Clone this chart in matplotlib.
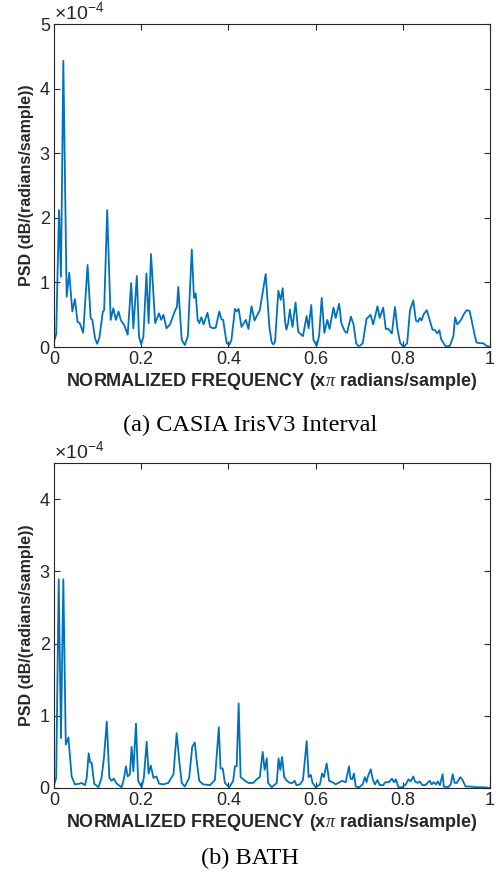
import numpy as np
import matplotlib
matplotlib.use("Agg")
import matplotlib.pyplot as plt

plt.rcParams["font.family"] = ["Liberation Sans", "DejaVu Sans"]
plt.rcParams["mathtext.fontset"] = "custom"
plt.rcParams["mathtext.rm"] = "Liberation Sans"
plt.rcParams["mathtext.it"] = "Liberation Serif:italic"

# PSD values (x1e-4), peak/valley vertices
casia_f = [0.0, 0.005, 0.0115, 0.016, 0.0214, 0.029, 0.035, 0.042, 0.048, 0.054,
           0.059, 0.067, 0.077, 0.084, 0.088, 0.094, 0.099, 0.104, 0.112, 0.115,
           0.122, 0.130, 0.136, 0.142, 0.148, 0.153, 0.161, 0.169, 0.177, 0.182,
           0.190, 0.195, 0.200, 0.205, 0.212, 0.217, 0.2225, 0.232, 0.241, 0.246,
           0.251, 0.258, 0.266, 0.278, 0.282, 0.285, 0.293, 0.300, 0.307, 0.316,
           0.321, 0.325, 0.3295, 0.333, 0.338, 0.343, 0.352, 0.358, 0.365, 0.371,
           0.379, 0.384, 0.388, 0.396, 0.402, 0.407, 0.415, 0.419, 0.4235, 0.430,
           0.440, 0.446, 0.453, 0.460, 0.465, 0.472, 0.4855, 0.494, 0.499, 0.503,
           0.507, 0.5145, 0.520, 0.5245, 0.530, 0.533, 0.537, 0.541, 0.547, 0.554,
           0.560, 0.567, 0.571, 0.5795, 0.584, 0.590, 0.595, 0.6025, 0.608, 0.614,
           0.620, 0.627, 0.632, 0.641, 0.646, 0.654, 0.659, 0.667, 0.672, 0.681,
           0.687, 0.693, 0.697, 0.702, 0.708, 0.717, 0.722, 0.726, 0.732, 0.742,
           0.747, 0.755, 0.761, 0.767, 0.775, 0.782, 0.788, 0.794, 0.802, 0.810,
           0.8165, 0.824, 0.830, 0.835, 0.839, 0.843, 0.848, 0.855, 0.861, 0.868,
           0.874, 0.879, 0.884, 0.888, 0.897, 0.902, 0.908, 0.916, 0.920, 0.925,
           0.930, 0.935, 0.940, 0.9465, 0.953, 0.958, 0.964, 0.969, 0.977, 0.984,
           0.992, 1.0]
casia_psd = [0.08, 0.20, 2.12, 1.09, 4.43, 0.78, 1.15, 0.55, 0.74, 0.39,
             0.37, 0.22, 1.27, 0.45, 0.42, 0.14, 0.05, 0.14, 0.55, 0.57,
             2.12, 0.42, 0.60, 0.42, 0.55, 0.42, 0.34, 0.19, 0.99, 0.29,
             1.10, 0.16, 0.04, 0.16, 1.14, 0.37, 1.44, 0.37, 0.52, 0.42,
             0.50, 0.29, 0.35, 0.57, 0.62, 0.93, 0.11, 0.03, 0.17, 1.51,
             0.76, 0.83, 0.42, 0.37, 0.46, 0.35, 0.53, 0.31, 0.29, 0.30,
             0.55, 0.43, 0.42, 0.06, 0.03, 0.11, 0.59, 0.55, 0.59, 0.31,
             0.42, 0.28, 0.63, 0.41, 0.48, 0.57, 1.13, 0.31, 0.08, 0.04,
             0.08, 0.87, 0.73, 0.91, 0.39, 0.27, 0.37, 0.58, 0.31, 0.69,
             0.24, 0.19, 0.17, 0.48, 0.29, 0.65, 0.11, 0.02, 0.17, 0.76,
             0.22, 0.42, 0.28, 0.61, 0.45, 0.67, 0.37, 0.24, 0.22, 0.47,
             0.35, 0.06, 0.02, 0.02, 0.06, 0.44, 0.47, 0.50, 0.35, 0.63,
             0.45, 0.61, 0.28, 0.28, 0.21, 0.62, 0.27, 0.06, 0.00, 0.06,
             0.57, 0.72, 0.41, 0.39, 0.45, 0.41, 0.51, 0.57, 0.43, 0.27,
             0.26, 0.21, 0.26, 0.12, 0.02, 0.01, 0.02, 0.17, 0.46, 0.35,
             0.39, 0.44, 0.51, 0.57, 0.56, 0.41, 0.21, 0.07, 0.06, 0.06,
             0.02, 0.0]

bath_f = [0.0, 0.005, 0.0108, 0.016, 0.0214, 0.027, 0.033, 0.0405, 0.048, 0.059,
          0.063, 0.071, 0.075, 0.0795, 0.083, 0.0865, 0.092, 0.102, 0.109, 0.1147,
          0.121, 0.127, 0.132, 0.137, 0.144, 0.155, 0.160, 0.165, 0.169, 0.174,
          0.178, 0.182, 0.188, 0.193, 0.201, 0.206, 0.2125, 0.217, 0.222, 0.228,
          0.235, 0.241, 0.251, 0.262, 0.274, 0.2813, 0.287, 0.293, 0.300, 0.310,
          0.317, 0.323, 0.327, 0.333, 0.342, 0.358, 0.369, 0.378, 0.382, 0.387,
          0.392, 0.402, 0.411, 0.415, 0.419, 0.4235, 0.428, 0.438, 0.446, 0.457,
          0.465, 0.472, 0.4786, 0.483, 0.488, 0.491, 0.4995, 0.511, 0.515, 0.519,
          0.523, 0.528, 0.534, 0.541, 0.547, 0.552, 0.556, 0.564, 0.571, 0.5795,
          0.584, 0.589, 0.593, 0.6005, 0.610, 0.6147, 0.619, 0.6254, 0.631, 0.6385,
          0.646, 0.655, 0.661, 0.669, 0.6766, 0.680, 0.684, 0.688, 0.692, 0.700,
          0.708, 0.713, 0.717, 0.7195, 0.7264, 0.731, 0.736, 0.742, 0.747, 0.755,
          0.760, 0.768, 0.775, 0.780, 0.784, 0.790, 0.798, 0.807, 0.813, 0.818,
          0.824, 0.828, 0.834, 0.839, 0.845, 0.852, 0.858, 0.862, 0.866, 0.871,
          0.876, 0.880, 0.885, 0.8914, 0.894, 0.904, 0.910, 0.9144, 0.919, 0.924,
          0.932, 0.937, 0.944, 0.955, 0.971, 0.986, 1.0]
bath_psd = [0.04, 0.14, 2.89, 0.69, 2.89, 0.60, 0.70, 0.16, 0.05, 0.06,
            0.07, 0.04, 0.14, 0.48, 0.35, 0.35, 0.06, 0.01, 0.14, 0.43,
            0.92, 0.14, 0.10, 0.13, 0.06, 0.01, 0.12, 0.30, 0.16, 0.19,
            0.57, 0.23, 0.89, 0.10, 0.01, 0.14, 0.64, 0.20, 0.31, 0.14,
            0.16, 0.06, 0.05, 0.07, 0.19, 0.76, 0.39, 0.07, 0.02, 0.14,
            0.57, 0.63, 0.39, 0.10, 0.05, 0.04, 0.11, 0.84, 0.27, 0.27,
            0.07, 0.01, 0.10, 0.30, 0.30, 1.17, 0.15, 0.10, 0.07, 0.07,
            0.12, 0.15, 0.50, 0.25, 0.41, 0.07, 0.01, 0.07, 0.41, 0.25,
            0.43, 0.15, 0.10, 0.07, 0.07, 0.10, 0.04, 0.05, 0.11, 0.65,
            0.15, 0.18, 0.07, 0.01, 0.05, 0.20, 0.15, 0.34, 0.10, 0.08,
            0.05, 0.08, 0.10, 0.08, 0.30, 0.13, 0.12, 0.20, 0.02, 0.01,
            0.05, 0.15, 0.08, 0.15, 0.26, 0.12, 0.05, 0.11, 0.04, 0.04,
            0.08, 0.08, 0.13, 0.08, 0.12, 0.01, 0.01, 0.05, 0.12, 0.09,
            0.16, 0.09, 0.07, 0.09, 0.04, 0.04, 0.08, 0.10, 0.05, 0.08,
            0.05, 0.09, 0.04, 0.19, 0.02, 0.01, 0.05, 0.19, 0.07, 0.07,
            0.15, 0.11, 0.02, 0.02, 0.01, 0.01, 0.0]

x_ticks = [0, 0.2, 0.4, 0.6, 0.8, 1]
x_ticklabels = ["0", "0.2", "0.4", "0.6", "0.8", "1"]
captions = ["(a) CASIA IrisV3 Interval", "(b) BATH"]

line_c = "#0072BD"
axis_c = "#262626"

fig = plt.figure(figsize=(5, 8.77), dpi=100)
ax1 = fig.add_axes([0.108, 0.6043, 0.872, 0.3683])
ax2 = fig.add_axes([0.108, 0.1015, 0.872, 0.3706])

panels = [(ax1, casia_f, casia_psd, 5, [0, 1, 2, 3, 4, 5]),
          (ax2, bath_f, bath_psd, 4.5, [0, 1, 2, 3, 4])]

for ax, f, p, ytop, yt in panels:
    ax.plot(f, p, color=line_c, lw=1.3)
    ax.set_xlim(0, 1)
    ax.set_ylim(0, ytop)
    ax.set_xticks(x_ticks)
    ax.set_xticklabels(x_ticklabels)
    ax.set_yticks(yt)
    ax.tick_params(direction="in", top=True, right=True, length=4, width=0.8,
                   colors=axis_c, labelsize=13, pad=3)
    for s in ax.spines.values():
        s.set_color(axis_c)
        s.set_linewidth(0.8)
    ax.set_xlabel(r"NORMALIZED FREQUENCY (x$\pi$ radians/sample)",
                  fontsize=13, fontweight="bold", color=axis_c, labelpad=2)
    ax.set_ylabel("PSD (dB/(radians/sample))", fontsize=11.5,
                  fontweight="bold", color=axis_c, labelpad=4)
    ax.text(0.0, 1.003, r"$\mathregular{\times10^{-4}}$", transform=ax.transAxes,
            fontsize=14, color=axis_c, ha="left", va="bottom")

fig.text(0.5, 1 - 425 / 877, captions[0], ha="center", va="center",
         family="Liberation Serif", fontsize=17.5)
fig.text(0.5, 1 - 858 / 877, captions[1], ha="center", va="center",
         family="Liberation Serif", fontsize=17.5)

fig.savefig("out.png", dpi=100)
